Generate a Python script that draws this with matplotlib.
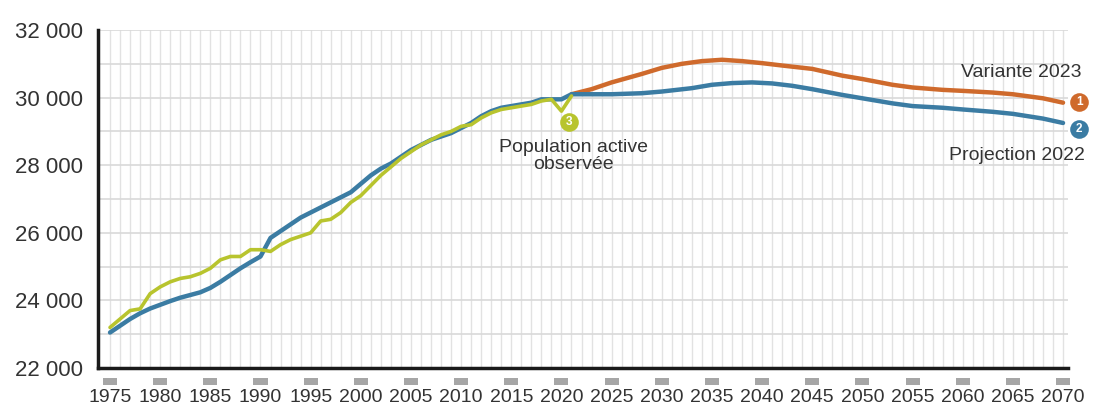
import matplotlib
matplotlib.use("Agg")
import matplotlib.pyplot as plt
from matplotlib.patches import Rectangle
import matplotlib.transforms as mtransforms

plt.rcParams['font.family'] = ['Liberation Sans', 'DejaVu Sans']

# ── data (milliers d'actifs) ──
obs_years = list(range(1975, 2022))
obs_vals = [23200, 23450, 23700, 23750, 24200, 24400, 24550, 24650, 24700, 24800,
            24950, 25200, 25300, 25300, 25500, 25500, 25450, 25650, 25800, 25900,
            26000, 26350, 26400, 26600, 26900, 27100, 27400, 27700, 27950, 28200,
            28400, 28600, 28750, 28900, 29000, 29150, 29200, 29400, 29550, 29650,
            29700, 29750, 29800, 29900, 29950, 29600, 30050]

proj_years = list(range(1975, 2022)) + [2022, 2025, 2028, 2030, 2033, 2035, 2037, 2039,
                                       2041, 2043, 2045, 2048, 2050, 2053, 2055, 2058,
                                       2060, 2063, 2065, 2068, 2070]
proj_vals = [23050, 23250, 23450, 23620, 23760, 23870, 23980, 24080, 24160, 24240,
             24370, 24550, 24750, 24950, 25130, 25300, 25850, 26050, 26250, 26450,
             26600, 26750, 26900, 27050, 27200, 27450, 27700, 27900, 28050, 28250,
             28450, 28600, 28750, 28850, 28950, 29100, 29250, 29450, 29600, 29700,
             29750, 29800, 29850, 29950, 29950, 29950, 30100,
             30100, 30100, 30130, 30180, 30280, 30380, 30430, 30450,
             30420, 30350, 30250, 30080, 29980, 29830, 29750, 29700,
             29650, 29580, 29520, 29380, 29250]

var_years = [2021, 2023, 2025, 2028, 2030, 2032, 2034, 2036, 2038, 2040, 2042, 2045,
             2048, 2050, 2053, 2055, 2058, 2060, 2063, 2065, 2068, 2070]
var_vals = [30100, 30250, 30450, 30700, 30880, 31000, 31080, 31120, 31080, 31020,
            30950, 30850, 30650, 30550, 30380, 30300, 30230, 30200, 30150, 30100,
            29980, 29850]

yticks = [22000, 24000, 26000, 28000, 30000, 32000]
ytick_labels = ["22 000", "24 000", "26 000", "28 000", "30 000", "32 000"]
xticks = list(range(1975, 2071, 5))

BLUE = "#3b7ca3"
ORANGE = "#cf6a2c"
GREEN = "#b8c42e"

fig = plt.figure(figsize=(10.96, 4.08), dpi=100)
ax = fig.add_axes([0.0894, 0.098, 0.8851, 0.8284])

ax.set_xlim(1973.8, 2070.5)
ax.set_ylim(22000, 32000)

# grid
for yr in range(1975, 2071):
    ax.axvline(yr, color="#e2e2e2", lw=1, zorder=0)
for v in range(22000, 32001, 1000):
    ax.axhline(v, color="#d9d9d9", lw=1.2, zorder=0)

ax.plot(var_years, var_vals, color=ORANGE, lw=3.2, zorder=3, solid_capstyle="round")
ax.plot(proj_years, proj_vals, color=BLUE, lw=3.2, zorder=3, solid_capstyle="round")
ax.plot(obs_years, obs_vals, color=GREEN, lw=2.6, zorder=4, solid_capstyle="round")

# numbered markers
def badge(x, y, num, col):
    ax.scatter([x], [y], s=180, color=col, zorder=6, clip_on=False, linewidths=0)
    ax.text(x, y, num, color="white", fontsize=8.5, fontweight="bold",
            ha="center", va="center", zorder=7, clip_on=False)

badge(2071.6, 29870, "1", ORANGE)
badge(2071.6, 29080, "2", BLUE)
badge(2020.8, 29280, "3", GREEN)

lab_col = "#333333"
ax.text(2071.8, 30750, "Variante 2023", ha="right", va="center", fontsize=14,
        color=lab_col, clip_on=False)
ax.text(2072.2, 28290, "Projection 2022", ha="right", va="center", fontsize=14,
        color=lab_col, clip_on=False)
ax.text(2021.2, 28280, "Population active\nobservée", ha="center", va="center",
        fontsize=14, color=lab_col, linespacing=1.0)

# axes styling
for s in ["top", "right"]:
    ax.spines[s].set_visible(False)
for s in ["left", "bottom"]:
    ax.spines[s].set_linewidth(2.5)
    ax.spines[s].set_color("#1a1a1a")

ax.set_yticks(yticks)
ax.set_yticklabels(ytick_labels)
ax.set_xticks(xticks)
ax.set_xticklabels([str(x) for x in xticks])
ax.tick_params(axis="y", length=0, pad=11, labelsize=16, labelcolor="#333333")
ax.tick_params(axis="x", length=0, pad=15, labelsize=14, labelcolor="#333333")

# grey tick blocks under the axis
trans = mtransforms.blended_transform_factory(ax.transData, ax.transAxes)
for x in xticks:
    ax.add_patch(Rectangle((x - 0.7, -0.051), 1.4, 0.021, transform=trans,
                           color="#a6a6a6", clip_on=False, lw=0))

fig.savefig("out.png", dpi=100)
